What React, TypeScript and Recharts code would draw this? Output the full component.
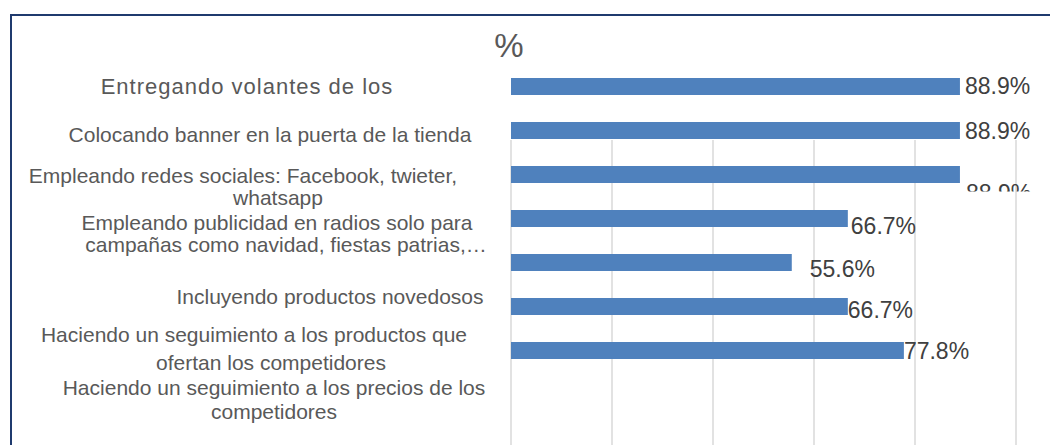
import React from "react";
import { BarChart, Bar, XAxis, YAxis, CartesianGrid, LabelList } from "recharts";

// categories (as wrapped in the original), values in %
const CATEGORIES = [
  ["Entregando volantes de los"],
  ["Colocando banner en la puerta de la tienda"],
  ["Empleando redes sociales: Facebook, twieter,", "whatsapp"],
  ["Empleando publicidad en radios solo para", "campañas como navidad, fiestas patrias,…"],
  ["Incluyendo productos novedosos"],
  ["Haciendo un seguimiento a los productos que", "ofertan los competidores"],
  ["Haciendo un seguimiento a los precios de los", "competidores"],
];
const VALUES = [88.9, 88.9, 88.9, 66.7, 55.6, 66.7, 77.8];
const X_TICKS = [0, 20, 40, 60, 80, 100];

const data = CATEGORIES.map((lines, i) => ({ name: lines.join(" "), lines, value: VALUES[i] }));

// label layout quirks of the source picture: [centerX, baseline offset from tick] per line
const TICK_LAYOUT: [number, number][][] = [
  [[247, 8]],
  [[270, 12]],
  [[243, 9], [278, 31]],
  [[277, 12], [286, 34]],
  [[330, 42]],
  [[254, 36], [271, 64]],
  [[274, 45], [274, 69]],
];
// value label nudges [dx, dy]
const LABEL_NUDGE: [number, number][] = [
  [5, -1], [5, 0], [6, 18], [3, 7], [18, 6], [0, 3], [0, 0],
];

const TEXT = "#595959";
const BAR = "#4F81BD";
const GRID = "#D9D9D9";
const FONT = "'Liberation Sans', Arial, sans-serif";

function CategoryTick(props: any) {
  const { y, index } = props;
  const lines = CATEGORIES[index] || [];
  const layout = TICK_LAYOUT[index] || [];
  return (
    <g>
      {lines.map((line, j) => (
        <text
          key={j}
          x={layout[j][0]}
          y={y + layout[j][1]}
          textAnchor="middle"
          fill={TEXT}
          fontSize={index === 0 ? 22 : 21}
          letterSpacing={index === 0 ? 1 : 0}
          fontFamily={FONT}
        >
          {line}
        </text>
      ))}
    </g>
  );
}

function ValueLabel(props: any) {
  const { x, y, width, height, value, index } = props;
  const [dx, dy] = LABEL_NUDGE[index] || [0, 0];
  const tx = x + width + dx;
  const ty = y + height / 2 + dy;
  const clipId = `vl-clip-${index}`;
  const clipped = index === 2;
  return (
    <g>
      {clipped && (
        <defs>
          <clipPath id={clipId}>
            <rect x={tx - 5} y={ty - 20} width={90} height={19} />
          </clipPath>
        </defs>
      )}
      <text
        x={tx}
        y={ty}
        dominantBaseline="central"
        fill="#404040"
        fontSize={23}
        fontFamily={FONT}
        clipPath={clipped ? `url(#${clipId})` : undefined}
      >
        {`${Number(value).toFixed(1)}%`}
      </text>
    </g>
  );
}

const GRID_TOP = 140;

export default function App() {
  return (
    <div style={{ position: "absolute", left: 0, top: 0, width: 1050, height: 445, background: "#fff" }}>
      <BarChart
        width={1050}
        height={445}
        data={data}
        layout="vertical"
        margin={{ top: 64, right: 34, bottom: 0, left: 0 }}
      >
        <CartesianGrid
          horizontal={false}
          vertical={(p: any) => (
            <line
              key={`v-${p.index}`}
              x1={p.x1}
              x2={p.x2}
              y1={GRID_TOP}
              y2={p.y2}
              stroke={GRID}
              strokeWidth={1.5}
            />
          )}
        />
        <XAxis type="number" domain={[0, 100]} ticks={X_TICKS} hide />
        <YAxis
          type="category"
          dataKey="name"
          width={511}
          axisLine={false}
          tickLine={false}
          interval={0}
          padding={{ top: 0, bottom: 73 }}
          tick={<CategoryTick />}
        />
        <Bar dataKey="value" fill={BAR} barSize={17} isAnimationActive={false}>
          <LabelList dataKey="value" content={<ValueLabel />} />
        </Bar>
      </BarChart>
      <svg
        width={1050}
        height={445}
        style={{ position: "absolute", left: 0, top: 0, pointerEvents: "none" }}
      >
        <line x1={10} x2={1050} y1={15} y2={15} stroke="#1F3A6E" strokeWidth={2} />
        <line x1={11} x2={11} y1={14} y2={445} stroke="#1F3A6E" strokeWidth={2} />
        <text x={509} y={57} textAnchor="middle" fill={TEXT} fontSize={33} fontFamily={FONT}>
          %
        </text>
      </svg>
    </div>
  );
}
